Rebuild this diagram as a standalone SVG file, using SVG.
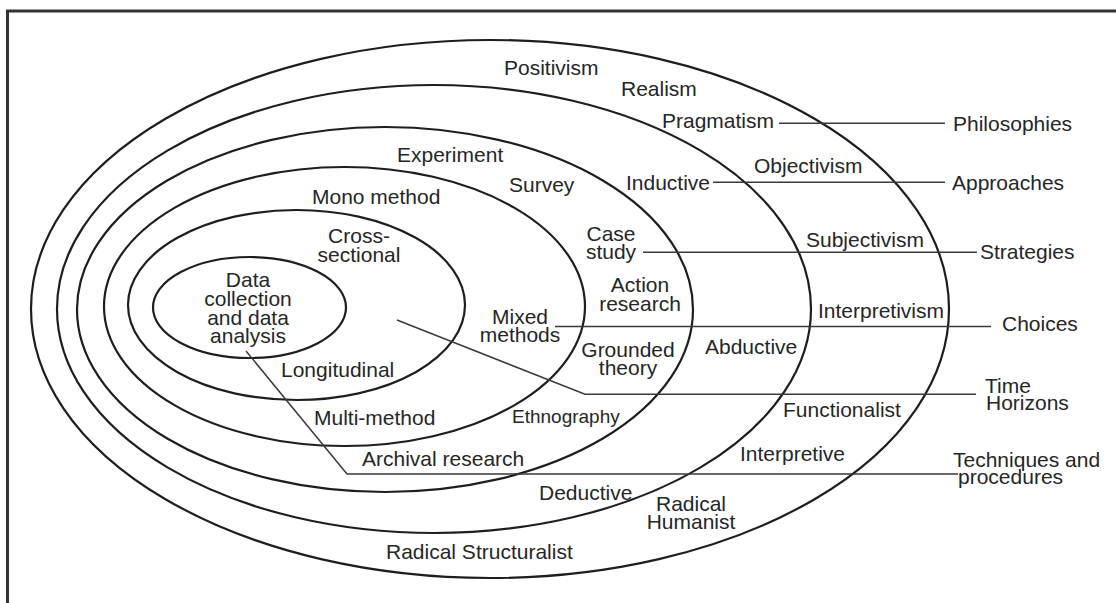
<svg xmlns="http://www.w3.org/2000/svg" width="1116" height="603" viewBox="0 0 1116 603">
<style>
text{font-family:"Liberation Sans",Arial,sans-serif;font-size:21px;fill:#262626}
.ring{fill:none;stroke:#1e1e1e;stroke-width:2.2}
.conn{fill:none;stroke:#3a3a3a;stroke-width:1.5}
.c{text-anchor:middle}
</style>
<rect width="1116" height="603" fill="#fff"/>
<path d="M7.5,603 V11 H1116" fill="none" stroke="#333" stroke-width="3"/>

<g id="philosophies-ring">
<ellipse class="ring" cx="490" cy="309" rx="459" ry="269"/>
<text x="504" y="75">Positivism</text>
<text x="621" y="96">Realism</text>
<text x="806" y="247">Subjectivism</text>
<text x="818" y="318">Interpretivism</text>
<text x="783" y="417">Functionalist</text>
<text x="740" y="461">Interpretive</text>
<text class="c" x="691" y="511">Radical</text>
<text class="c" x="691" y="529">Humanist</text>
<text x="386" y="559">Radical Structuralist</text>
</g>

<g id="approaches-ring">
<ellipse class="ring" cx="434" cy="309" rx="377" ry="224"/>
<text x="662" y="128">Pragmatism</text>
<text x="754" y="173">Objectivism</text>
<text x="705" y="354">Abductive</text>
<text x="539" y="500">Deductive</text>
</g>

<g id="strategies-ring">
<ellipse class="ring" cx="385" cy="309.5" rx="308" ry="182.5"/>
<text x="397" y="162">Experiment</text>
<text x="626" y="190">Inductive</text>
<text x="362" y="466">Archival research</text>
</g>

<g id="choices-ring">
<ellipse class="ring" cx="344.5" cy="306.5" rx="240.5" ry="139.5"/>
<text x="509" y="192">Survey</text>
<text class="c" x="611" y="241">Case</text>
<text class="c" x="611" y="259">study</text>
<text class="c" x="640" y="292">Action</text>
<text class="c" x="640" y="311">research</text>
<text class="c" x="628" y="357">Grounded</text>
<text class="c" x="628" y="375">theory</text>
<text x="512" y="423" style="font-size:19px">Ethnography</text>
<text x="314" y="425">Multi-method</text>
</g>

<g id="time-horizons-ring">
<ellipse class="ring" cx="296.5" cy="305" rx="168.5" ry="95"/>
<text x="312" y="204">Mono method</text>
<text class="c" x="520" y="324">Mixed</text>
<text class="c" x="520" y="342">methods</text>
<text x="281" y="377">Longitudinal</text>
</g>

<g id="techniques-core">
<ellipse class="ring" cx="249.5" cy="307.5" rx="96.5" ry="50.5"/>
<text class="c" x="359" y="243">Cross-</text>
<text class="c" x="359" y="262">sectional</text>
<text class="c" x="248" y="287">Data</text>
<text class="c" x="248" y="306">collection</text>
<text class="c" x="248" y="325">and data</text>
<text class="c" x="248" y="343">analysis</text>
</g>

<g id="connectors">
<path class="conn" d="M779,123.3 H945"/>
<path class="conn" d="M713,182.3 H945"/>
<path class="conn" d="M643,252.3 H977"/>
<path class="conn" d="M555,326.5 H991"/>
<path class="conn" d="M397,320 L585,394.3 H976"/>
<path class="conn" d="M246,351 L347,474 H958"/>
</g>

<g id="layer-labels">
<text x="953" y="131">Philosophies</text>
<text x="952" y="190">Approaches</text>
<text x="980" y="259">Strategies</text>
<text x="1002" y="331">Choices</text>
<text x="985" y="393">Time</text>
<text x="986" y="410">Horizons</text>
<text x="953" y="467">Techniques and</text>
<text x="958" y="484">procedures</text>
</g>
</svg>
